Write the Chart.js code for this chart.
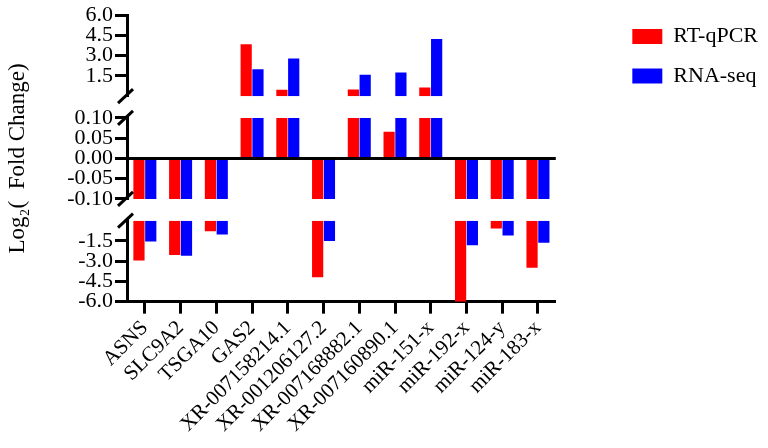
<!DOCTYPE html>
<html lang="en">
<head>
    <meta charset="UTF-8">
    <script src="https://cdn.jsdelivr.net/npm/chart.js"></script>
    <title>RT-qPCR vs RNA-seq</title>
    <style>
        body { margin: 0; background: #fff; }
        #wrap { width: 768px; height: 448px; }
    </style>
</head>
<body>
    <div id="wrap"><canvas id="foldChart"></canvas></div>

    <script>
        // data
        const categories = ['ASNS', 'SLC9A2', 'TSGA10', 'GAS2', 'XR-007158214.1', 'XR-001206127.2',
            'XR-007168882.1', 'XR-007160890.1', 'miR-151-x', 'miR-192-x', 'miR-124-y', 'miR-183-x'];
        const rtqpcr = [-2.95, -2.55, -0.78, 3.84, 0.47, -4.2, 0.5, 0.066, 0.64, -6.0, -0.58, -3.48];
        const rnaseq = [-1.55, -2.6, -1.03, 2.0, 2.79, -1.5, 1.58, 1.75, 4.24, -1.83, -1.1, -1.63];

        // tick labels of the three axis segments
        const upperTicks = [1.5, 3.0, 4.5, 6.0];
        const middleTicks = [-0.10, -0.05, 0.00, 0.05, 0.10];
        const lowerTicks = [-6.0, -4.5, -3.0, -1.5];

        const RED = '#FF0000';
        const BLUE = '#0000FF';
        const AXIS_W = 127;

        Chart.defaults.font.family = "'Liberation Serif', 'Times New Roman', serif";
        Chart.defaults.color = '#000';

        // split each series over the broken axis
        const upper = arr => arr.map(v => v > 0.1 ? v : null);
        const middle = arr => arr.map(v => Math.max(-0.1, Math.min(0.1, v)));
        const lower = arr => arr.map(v => v < -0.1 ? v : null);

        function segmentAxis(ticks, min, max, digits, extra) {
            return Object.assign({
                type: 'linear',
                position: 'left',
                stack: 'seg',
                stackWeight: 80,
                stacked: false,
                min: min,
                max: max,
                afterBuildTicks: scale => { scale.ticks = ticks.map(v => ({ value: v })); },
                afterFit: scale => { scale.width = AXIS_W; },
                ticks: {
                    font: { size: 22 },
                    padding: 2,
                    autoSkip: false,
                    callback: v => v.toFixed(digits)
                },
                grid: {
                    drawOnChartArea: false,
                    tickLength: 12,
                    tickWidth: 3,
                    tickColor: '#000'
                },
                border: { color: '#000', width: 3 }
            }, extra || {});
        }

        function gapAxis() {
            return {
                type: 'linear',
                position: 'left',
                stack: 'seg',
                stackWeight: 21.5,
                afterFit: scale => { scale.width = AXIS_W; },
                ticks: { display: false },
                grid: { display: false },
                border: { display: false }
            };
        }

        // slashes where the y axis is broken
        const breakMarks = {
            id: 'breakMarks',
            afterDraw(chart) {
                const { ctx, scales } = chart;
                const x = scales.yMid.right;
                const ys = [scales.yTop.bottom, scales.yMid.top, scales.yMid.bottom, scales.yBot.top];
                ctx.save();
                ctx.strokeStyle = '#000';
                ctx.lineWidth = 3;
                ys.forEach(y => {
                    ctx.beginPath();
                    ctx.moveTo(x - 9, y + 7);
                    ctx.lineTo(x + 6, y - 7);
                    ctx.stroke();
                });
                ctx.restore();
            }
        };

        const barOpts = { categoryPercentage: 0.66, barPercentage: 0.95 };

        new Chart(document.getElementById('foldChart'), {
            type: 'bar',
            data: {
                labels: categories,
                datasets: [
                    Object.assign({ label: 'RT-qPCR', data: upper(rtqpcr), backgroundColor: RED, yAxisID: 'yTop', stack: 'rt' }, barOpts),
                    Object.assign({ label: 'RNA-seq', data: upper(rnaseq), backgroundColor: BLUE, yAxisID: 'yTop', stack: 'rna' }, barOpts),
                    Object.assign({ label: 'RT-qPCR', data: middle(rtqpcr), backgroundColor: RED, yAxisID: 'yMid', stack: 'rt' }, barOpts),
                    Object.assign({ label: 'RNA-seq', data: middle(rnaseq), backgroundColor: BLUE, yAxisID: 'yMid', stack: 'rna' }, barOpts),
                    Object.assign({ label: 'RT-qPCR', data: lower(rtqpcr), backgroundColor: RED, yAxisID: 'yBot', stack: 'rt' }, barOpts),
                    Object.assign({ label: 'RNA-seq', data: lower(rnaseq), backgroundColor: BLUE, yAxisID: 'yBot', stack: 'rna' }, barOpts)
                ]
            },
            options: {
                responsive: true,
                maintainAspectRatio: false,
                animation: false,
                layout: { padding: { top: 8, bottom: 9, left: 0, right: 0 } },
                plugins: {
                    tooltip: { enabled: false },
                    legend: {
                        position: 'right',
                        align: 'start',
                        maxWidth: 220,
                        labels: {
                            filter: item => item.datasetIndex < 2,
                            boxWidth: 30,
                            boxHeight: 15,
                            padding: 17.5,
                            font: { size: 22 }
                        }
                    }
                },
                scales: {
                    x: {
                        type: 'category',
                        offset: true,
                        ticks: { font: { size: 21 }, maxRotation: 45, minRotation: 45, padding: 2, autoSkip: false },
                        grid: {
                            offset: false,
                            drawOnChartArea: false,
                            tickLength: 12,
                            tickWidth: 3,
                            tickColor: '#000'
                        },
                        border: { color: '#000', width: 3 }
                    },
                    yBot: segmentAxis(lowerTicks, -6, 0, 1),
                    gapB: gapAxis(),
                    yMid: segmentAxis(middleTicks, -0.1, 0.1, 2, {
                        title: {
                            display: true,
                            text: 'Log₂(  Fold Change)',
                            font: { size: 23 },
                            padding: { top: 4, bottom: 0 }
                        },
                        grid: {
                            drawOnChartArea: true,
                            color: c => (c.tick && Math.abs(c.tick.value) < 1e-9) ? '#000' : 'rgba(0,0,0,0)',
                            lineWidth: 3,
                            tickLength: 12,
                            tickWidth: 3,
                            tickColor: '#000'
                        }
                    }),
                    gapT: gapAxis(),
                    yTop: segmentAxis(upperTicks, 0, 6, 1),
                    yR: {
                        type: 'linear',
                        position: 'right',
                        afterFit: scale => { scale.width = 59; },
                        ticks: { display: false },
                        grid: { display: false },
                        border: { display: false }
                    }
                }
            },
            plugins: [breakMarks]
        });
    </script>
</body>
</html>
